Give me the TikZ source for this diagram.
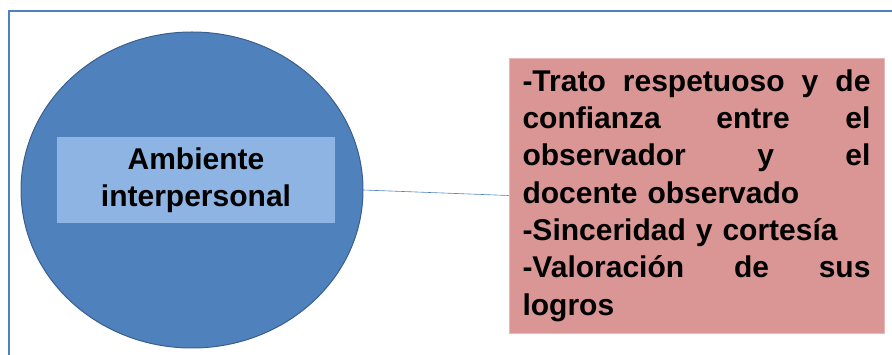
\documentclass[tikz,border=0pt]{standalone}
\usepackage{fontspec}
\setmainfont{Liberation Sans}
\usetikzlibrary{shapes.geometric}
\definecolor{azul}{HTML}{4F81BD}
\definecolor{azulosc}{HTML}{3A5F8E}
\definecolor{azulcl}{HTML}{8EB4E3}
\definecolor{rosa}{HTML}{D99694}
\definecolor{rosacl}{HTML}{E6B9B8}
\newcommand{\lineajust}[1]{\makebox[348pt][l]{#1}}
\tikzset{
  circ/.style={ellipse,draw=azulosc,line width=1pt,fill=azul,minimum width=342,minimum height=316,inner sep=0pt},
  etiqueta/.style={fill=azulcl,minimum width=278,minimum height=86,align=center,inner sep=0pt,
    font=\fontsize{30}{37}\selectfont\bfseries},
  cuadro/.style={draw=rosacl,line width=0.6pt,fill=rosa,minimum width=375,minimum height=275,
    text width=348,inner xsep=13.5,inner ysep=0pt,align=left,font=\fontsize{30}{37.3}\selectfont\bfseries},
}
\begin{document}
\begin{tikzpicture}[x=1pt,y=-1pt]
\useasboundingbox (0,0) rectangle (892,355);
%\draw[step=10,gray,very thin] (0,0) grid (892,355);
\draw[azul,line width=1.8pt] (9,355)--(9,11)--(892,11);
%.............................
\node[circ] (amb) at (192,190) {};
\node[etiqueta] (nom) at (196,180) {Ambiente\\interpersonal};
%.............................
\node[cuadro] (rasgos) at (696.5,195.5) {%
\lineajust{-Trato\hfill respetuoso\hfill y\hfill de}\\
\lineajust{confianza\hfill entre\hfill el}\\
\lineajust{observador\hfill y\hfill el}\\
docente observado\\
-Sinceridad y cortesía\\
\lineajust{-Valoración\hfill de\hfill sus}\\
logros};
%.............................
\draw[azul,line width=0.6pt] (amb.east)--(rasgos.west);
\end{tikzpicture}
\end{document}
